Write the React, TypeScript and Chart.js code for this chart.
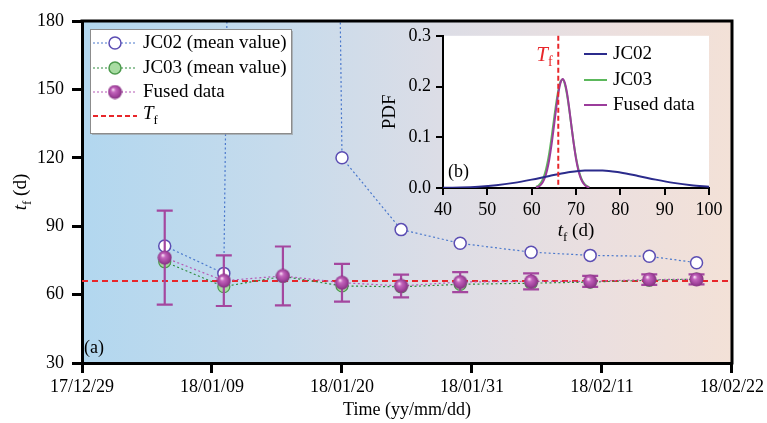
import React, { useEffect, useRef } from "react";
import { Chart, registerables } from "chart.js";
Chart.register(...registerables);

// ---------- data (main panel a) ----------
const sampleDates = ["18/01/05", "18/01/10", "18/01/15", "18/01/20", "18/01/25", "18/01/30", "18/02/05", "18/02/10", "18/02/15", "18/02/19"];
const xTickLabels = ["17/12/29", "18/01/09", "18/01/20", "18/01/31", "18/02/11", "18/02/22"];
const jc02Mean = [81.3, 69.3, 2200, 120, 88.5, 82.5, 78.6, 77.2, 76.8, 74.0];
const jc03Mean = [74.4, 63.5, 68.0, 63.8, 63.4, 64.5, 65.0, 65.5, 66.3, 66.8];
const fusedMean = [76.2, 66.1, 68.2, 65.2, 63.8, 65.5, 65.8, 65.8, 66.6, 66.7];
const fusedErr = [20.6, 11.1, 12.9, 8.3, 5.0, 4.4, 3.5, 2.4, 2.3, 2.2];
const yTicks = [30, 60, 90, 120, 150, 180];
const Tf = 66;

// ---------- data (inset b) ----------
const pdfGridJC02 = [40, 44, 48, 52, 56, 60, 64, 68, 72, 76, 80, 84, 88, 92, 96, 100];
const pdfJC02 = [0.0004, 0.0011, 0.0026, 0.0054, 0.0101, 0.0165, 0.0238, 0.0305, 0.0345, 0.0345, 0.0305, 0.0238, 0.0165, 0.0101, 0.0054, 0.0026];
const pdfGridNarrow = [61, 61.5, 62, 62.5, 63, 63.5, 64, 64.5, 65, 65.5, 66, 66.5, 67, 67.5, 68, 68.5, 69, 69.5, 70, 70.5, 71, 71.5, 72, 72.5, 73];
const pdfJC03 = [0.0022, 0.0046, 0.0091, 0.0168, 0.029, 0.0468, 0.0708, 0.1004, 0.133, 0.165, 0.192, 0.2095, 0.2137, 0.204, 0.1826, 0.1529, 0.1198, 0.088, 0.0605, 0.039, 0.0235, 0.0133, 0.007, 0.0035, 0.0016];
const pdfFused = [0.0011, 0.0026, 0.0056, 0.0112, 0.0208, 0.0359, 0.0577, 0.0863, 0.12, 0.155, 0.186, 0.207, 0.215, 0.207, 0.186, 0.155, 0.12, 0.0863, 0.0577, 0.0359, 0.0208, 0.0112, 0.0056, 0.0026, 0.0011];

const FAMILY = "'Liberation Serif', 'DejaVu Serif', serif";
Chart.defaults.font.family = FAMILY;
Chart.defaults.color = "#000";

function dayOffset(s: string) {
  const [y, m, d] = s.split("/").map(Number);
  return (Date.UTC(2000 + y, m - 1, d) - Date.UTC(2000 + 17, 11, 29)) / 86400000;
}

const C_JC02_LINE = "#4a78cc";
const C_JC02_PT = "#5b4db3";
const C_JC03_LINE = "#2e8b3e";
const C_JC03_FILL = "#a8dca2";
const C_JC03_PT = "#4c9a4c";
const C_FUSED = "#a4479f";
const C_FUSED_LINE = "#b55ab5";
const C_RED = "#e8262a";

function makeSphere(): HTMLCanvasElement {
  const c = document.createElement("canvas");
  c.width = 15;
  c.height = 15;
  const g = c.getContext("2d")!;
  const grad = g.createRadialGradient(5.5, 5, 0.5, 7.5, 7.5, 7.5);
  grad.addColorStop(0, "#f6d8f2");
  grad.addColorStop(0.25, "#c466bd");
  grad.addColorStop(0.7, "#a0429b");
  grad.addColorStop(1, "#7c2b79");
  g.fillStyle = grad;
  g.beginPath();
  g.arc(7.5, 7.5, 7, 0, Math.PI * 2);
  g.fill();
  return c;
}

function drawSubLabel(ctx: CanvasRenderingContext2D, x: number, y: number, main: string, sub: string, rest: string, size: number, align: "left" | "center", color = "#000") {
  const f1 = `italic ${size}px ${FAMILY}`;
  const f2 = `${Math.round(size * 0.68)}px ${FAMILY}`;
  const f3 = `${size}px ${FAMILY}`;
  ctx.save();
  ctx.fillStyle = color;
  ctx.textBaseline = "middle";
  ctx.textAlign = "left";
  ctx.font = f1;
  const w1 = ctx.measureText(main).width;
  ctx.font = f2;
  const w2 = ctx.measureText(sub).width;
  ctx.font = f3;
  const w3 = ctx.measureText(rest).width;
  let sx = align === "center" ? x - (w1 + w2 + w3) / 2 : x;
  ctx.font = f1;
  ctx.fillText(main, sx, y);
  sx += w1;
  ctx.font = f2;
  ctx.fillText(sub, sx, y + size * 0.32);
  sx += w2;
  ctx.font = f3;
  ctx.fillText(rest, sx, y);
  ctx.restore();
}

export default function App() {
  const mainRef = useRef<HTMLCanvasElement>(null);
  const insetRef = useRef<HTMLCanvasElement>(null);

  useEffect(() => {
    document.body.style.margin = "0";
    const sphere = makeSphere();
    const xs = sampleDates.map(dayOffset);
    const xMax = dayOffset(xTickLabels[xTickLabels.length - 1]);

    const mainPlugin = {
      id: "mainDeco",
      beforeDraw(chart: any) {
        const { ctx, chartArea: a } = chart;
        const g = ctx.createLinearGradient(a.left, 0, a.right, 0);
        g.addColorStop(0, "#b2d7ef");
        g.addColorStop(0.3, "#c6dbec");
        g.addColorStop(0.55, "#dcdde6");
        g.addColorStop(0.8, "#ebdfdf");
        g.addColorStop(1, "#f3e1d7");
        ctx.save();
        ctx.fillStyle = g;
        ctx.fillRect(a.left, a.top, a.right - a.left, a.bottom - a.top);
        ctx.restore();
      },
      beforeDatasetDraw(chart: any, args: any) {
        if (args.index !== 3) return;
        const { ctx } = chart;
        const xS = chart.scales.x;
        const yS = chart.scales.y;
        ctx.save();
        ctx.strokeStyle = C_FUSED;
        ctx.lineWidth = 2.2;
        fusedMean.forEach((m, i) => {
          const px = xS.getPixelForValue(xs[i]);
          const top = yS.getPixelForValue(m + fusedErr[i]);
          const bot = yS.getPixelForValue(m - fusedErr[i]);
          ctx.beginPath();
          ctx.moveTo(px, top);
          ctx.lineTo(px, bot);
          ctx.moveTo(px - 8, top);
          ctx.lineTo(px + 8, top);
          ctx.moveTo(px - 8, bot);
          ctx.lineTo(px + 8, bot);
          ctx.stroke();
        });
        ctx.restore();
      },
      afterDraw(chart: any) {
        const { ctx, chartArea: a } = chart;
        ctx.save();
        // top & right frame
        ctx.strokeStyle = "#000";
        ctx.lineWidth = 3;
        ctx.beginPath();
        ctx.moveTo(a.left - 1.5, a.top);
        ctx.lineTo(a.right, a.top);
        ctx.lineTo(a.right, a.bottom + 1.5);
        ctx.stroke();

        // legend box
        const bx = 90, by = 29, bw = 201, bh = 104;
        ctx.fillStyle = "rgba(150,150,150,0.6)";
        ctx.fillRect(bx + 2, by + 2, bw, bh);
        ctx.fillStyle = "#fff";
        ctx.fillRect(bx, by, bw, bh);
        ctx.strokeStyle = "#8c8c8c";
        ctx.lineWidth = 1;
        ctx.strokeRect(bx + 0.5, by + 0.5, bw, bh);

        const rows = [43, 68, 92, 116];
        const lx1 = 93, lx2 = 137, lc = 115;
        ctx.lineWidth = 1.2;
        ctx.setLineDash([2, 2]);
        [C_JC02_LINE, C_JC03_LINE, C_FUSED_LINE].forEach((c, i) => {
          ctx.strokeStyle = c;
          ctx.beginPath();
          ctx.moveTo(lx1, rows[i]);
          ctx.lineTo(lx2, rows[i]);
          ctx.stroke();
        });
        ctx.setLineDash([]);
        // markers
        ctx.lineWidth = 1.5;
        ctx.fillStyle = "#fff";
        ctx.strokeStyle = C_JC02_PT;
        ctx.beginPath();
        ctx.arc(lc, rows[0], 6, 0, Math.PI * 2);
        ctx.fill();
        ctx.stroke();
        ctx.fillStyle = C_JC03_FILL;
        ctx.strokeStyle = C_JC03_PT;
        ctx.beginPath();
        ctx.arc(lc, rows[1], 6, 0, Math.PI * 2);
        ctx.fill();
        ctx.stroke();
        ctx.drawImage(sphere, lc - 7.5, rows[2] - 7.5);
        ctx.strokeStyle = C_RED;
        ctx.lineWidth = 2;
        ctx.setLineDash([5, 3]);
        ctx.beginPath();
        ctx.moveTo(lx1, rows[3]);
        ctx.lineTo(lx2, rows[3]);
        ctx.stroke();
        ctx.setLineDash([]);

        ctx.fillStyle = "#000";
        ctx.textBaseline = "middle";
        ctx.textAlign = "left";
        ctx.font = `19px ${FAMILY}`;
        ctx.fillText("JC02 (mean value)", 143, rows[0]);
        ctx.fillText("JC03 (mean value)", 143, rows[1]);
        ctx.fillText("Fused data", 143, rows[2]);
        drawSubLabel(ctx, 143, rows[3] - 2, "T", "f", "", 19, "left");

        // (a)
        ctx.font = `18px ${FAMILY}`;
        ctx.fillText("(a)", 84, 348);

        // axis titles
        ctx.textAlign = "center";
        ctx.font = `18px ${FAMILY}`;
        ctx.fillText("Time (yy/mm/dd)", (a.left + a.right) / 2, 410);
        ctx.save();
        ctx.translate(21, (a.top + a.bottom) / 2);
        ctx.rotate(-Math.PI / 2);
        drawSubLabel(ctx, 0, 0, "t", "f", " (d)", 19, "center");
        ctx.restore();
        ctx.restore();
      },
    };

    const main = new Chart(mainRef.current!, {
      type: "line",
      data: {
        datasets: [
          {
            label: "Tf",
            data: [{ x: 0, y: Tf }, { x: xMax, y: Tf }],
            borderColor: C_RED,
            borderWidth: 2,
            borderDash: [6, 4],
            pointRadius: 0,
            order: 5,
          },
          {
            label: "JC02 (mean value)",
            data: xs.map((x, i) => ({ x, y: jc02Mean[i] })),
            borderColor: C_JC02_LINE,
            borderWidth: 1.2,
            borderDash: [2, 2.5],
            pointRadius: 6,
            pointBackgroundColor: "#fff",
            pointBorderColor: C_JC02_PT,
            pointBorderWidth: 1.5,
            order: 4,
          },
          {
            label: "JC03 (mean value)",
            data: xs.map((x, i) => ({ x, y: jc03Mean[i] })),
            borderColor: C_JC03_LINE,
            borderWidth: 1.2,
            borderDash: [2, 2.5],
            pointRadius: 6,
            pointBackgroundColor: C_JC03_FILL,
            pointBorderColor: C_JC03_PT,
            pointBorderWidth: 1.2,
            order: 3,
          },
          {
            label: "Fused data",
            data: xs.map((x, i) => ({ x, y: fusedMean[i] })),
            borderColor: C_FUSED_LINE,
            borderWidth: 1.2,
            borderDash: [2, 2.5],
            pointStyle: sphere as any,
            pointRadius: 7,
            order: 1,
          },
        ],
      },
      options: {
        animation: false,
        responsive: false,
        maintainAspectRatio: false,
        layout: { padding: { top: 21, right: 34, left: 0, bottom: 0 } },
        plugins: { legend: { display: false }, tooltip: { enabled: false } },
        scales: {
          x: {
            type: "linear",
            min: 0,
            max: xMax,
            afterFit: (s: any) => { s.height = 60; },
            afterBuildTicks: (s: any) => { s.ticks = xTickLabels.map((l) => ({ value: dayOffset(l) })); },
            ticks: {
              callback: (v: any) => xTickLabels.find((l) => dayOffset(l) === v) ?? "",
              font: { size: 18 },
              color: "#000",
              padding: 3,
              maxRotation: 0,
              autoSkip: false,
            },
            grid: { drawOnChartArea: false, tickLength: 10, lineWidth: 3, color: "#000" },
            border: { width: 3, color: "#000" },
          },
          y: {
            type: "linear",
            min: 30,
            max: 180,
            afterFit: (s: any) => { s.width = 82; },
            afterBuildTicks: (s: any) => { s.ticks = yTicks.map((v) => ({ value: v })); },
            ticks: { font: { size: 18 }, color: "#000", padding: 8 },
            grid: { drawOnChartArea: false, tickLength: 10, lineWidth: 3, color: "#000" },
            border: { width: 3, color: "#000" },
          },
        },
      } as any,
      plugins: [mainPlugin],
    });

    const insetPlugin = {
      id: "insetDeco",
      beforeDraw(chart: any) {
        const { ctx, chartArea: a } = chart;
        ctx.save();
        ctx.fillStyle = "#fff";
        ctx.fillRect(a.left, a.top, a.right - a.left, a.bottom - a.top);
        ctx.restore();
      },
      afterDatasetsDraw(chart: any) {
        const { ctx, chartArea: a } = chart;
        const px = chart.scales.x.getPixelForValue(Tf);
        ctx.save();
        ctx.strokeStyle = C_RED;
        ctx.lineWidth = 2;
        ctx.setLineDash([5, 3]);
        ctx.beginPath();
        ctx.moveTo(px, a.top);
        ctx.lineTo(px, a.bottom);
        ctx.stroke();
        ctx.setLineDash([]);
        drawSubLabel(ctx, px - 22, a.top + 20, "T", "f", "", 21, "left", C_RED);

        // legend
        const rows = [34, 60, 85];
        const cols = ["#2b2b8c", "#5cb85c", "#9b3c9b"];
        const names = ["JC02", "JC03", "Fused data"];
        ctx.lineWidth = 2;
        rows.forEach((y, i) => {
          ctx.strokeStyle = cols[i];
          ctx.beginPath();
          ctx.moveTo(214, y);
          ctx.lineTo(237, y);
          ctx.stroke();
          ctx.fillStyle = "#000";
          ctx.font = `19px ${FAMILY}`;
          ctx.textBaseline = "middle";
          ctx.textAlign = "left";
          ctx.fillText(names[i], 243, y);
        });
        ctx.font = `18px ${FAMILY}`;
        ctx.fillText("(b)", a.left + 5, a.bottom - 16);
        ctx.restore();
      },
      afterDraw(chart: any) {
        const { ctx, chartArea: a } = chart;
        ctx.save();
        ctx.fillStyle = "#000";
        ctx.textBaseline = "middle";
        ctx.textAlign = "center";
        ctx.save();
        ctx.translate(20, (a.top + a.bottom) / 2);
        ctx.rotate(-Math.PI / 2);
        ctx.font = `19px ${FAMILY}`;
        ctx.fillText("PDF", 0, 0);
        ctx.restore();
        drawSubLabel(ctx, (a.left + a.right) / 2, 211, "t", "f", " (d)", 19, "center");
        ctx.restore();
      },
    };

    const inset = new Chart(insetRef.current!, {
      type: "line",
      data: {
        datasets: [
          {
            label: "JC03",
            data: pdfGridNarrow.map((x, i) => ({ x, y: pdfJC03[i] })),
            borderColor: "#5cb85c",
            borderWidth: 2,
            pointRadius: 0,
            cubicInterpolationMode: "monotone",
            order: 3,
          },
          {
            label: "Fused data",
            data: pdfGridNarrow.map((x, i) => ({ x, y: pdfFused[i] })),
            borderColor: "#9b3c9b",
            borderWidth: 2,
            pointRadius: 0,
            cubicInterpolationMode: "monotone",
            order: 2,
          },
          {
            label: "JC02",
            data: pdfGridJC02.map((x, i) => ({ x, y: pdfJC02[i] })),
            borderColor: "#2b2b8c",
            borderWidth: 2,
            pointRadius: 0,
            cubicInterpolationMode: "monotone",
            order: 1,
          },
        ],
      },
      options: {
        animation: false,
        responsive: false,
        maintainAspectRatio: false,
        layout: { padding: { top: 14, right: 31, left: 0, bottom: 0 } },
        plugins: { legend: { display: false }, tooltip: { enabled: false } },
        scales: {
          x: {
            type: "linear",
            min: 40,
            max: 100,
            afterFit: (s: any) => { s.height = 62; },
            ticks: { stepSize: 10, font: { size: 18 }, color: "#000", padding: 4, maxRotation: 0 },
            grid: { drawOnChartArea: false, tickLength: 7, lineWidth: 2, color: "#000" },
            border: { width: 2, color: "#000" },
          },
          y: {
            type: "linear",
            min: 0,
            max: 0.3,
            afterFit: (s: any) => { s.width = 73; },
            ticks: { stepSize: 0.1, font: { size: 18 }, color: "#000", padding: 5, callback: (v: any) => Number(v).toFixed(1) },
            grid: { drawOnChartArea: false, tickLength: 7, lineWidth: 2, color: "#000" },
            border: { width: 2, color: "#000" },
          },
        },
      } as any,
      plugins: [insetPlugin],
    });

    return () => {
      main.destroy();
      inset.destroy();
    };
  }, []);

  return (
    <div style={{ position: "relative", width: 767, height: 423, background: "#fff" }}>
      <canvas ref={mainRef} width={767} height={423} style={{ position: "absolute", left: 0, top: 0, width: 767, height: 423 }} />
      <canvas ref={insetRef} width={370} height={230} style={{ position: "absolute", left: 370, top: 20, width: 370, height: 230 }} />
    </div>
  );
}
